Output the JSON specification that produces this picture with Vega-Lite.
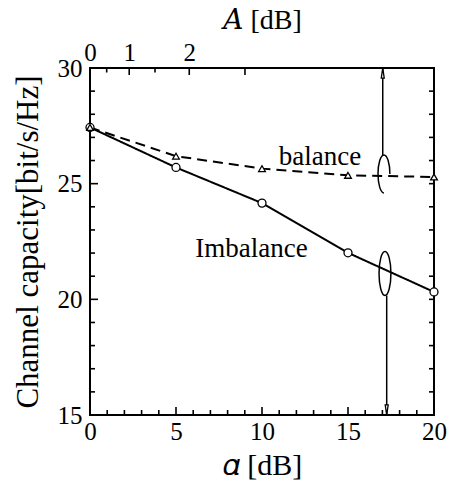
{
  "$schema": "https://vega.github.io/schema/vega-lite/v6.json",
  "width": 344,
  "height": 347,
  "autosize": {"type": "none"},
  "padding": {"left": 90, "top": 68, "right": 17, "bottom": 68},
  "background": "white",
  "config": {
    "view": {"stroke": "black", "strokeWidth": 2},
    "axis": {
      "labelFont": "Liberation Serif", "labelFontSize": 25, "labelColor": "black",
      "titleFont": "Liberation Serif, DejaVu Serif", "titleFontSize": 28, "titleFontWeight": "normal", "titleColor": "black",
      "ticks": false, "domain": false, "grid": false, "labelFlush": false, "labelOverlap": false, "labelBound": false
    },
    "text": {"font": "Liberation Serif"}
  },
  "datasets": {
    "curves": [
      {"alpha": 0, "cap": 27.43, "series": "Imbalance"},
      {"alpha": 5, "cap": 25.70, "series": "Imbalance"},
      {"alpha": 10, "cap": 24.16, "series": "Imbalance"},
      {"alpha": 15, "cap": 22.01, "series": "Imbalance"},
      {"alpha": 20, "cap": 20.32, "series": "Imbalance"},
      {"alpha": 0, "cap": 27.43, "series": "balance"},
      {"alpha": 5, "cap": 26.19, "series": "balance"},
      {"alpha": 10, "cap": 25.65, "series": "balance"},
      {"alpha": 15, "cap": 25.36, "series": "balance"},
      {"alpha": 20, "cap": 25.29, "series": "balance"}
    ],
    "arrows": [
      {"x": 17.02, "y1": 26.24, "y2": 30, "head": 29.78, "dir": "up"},
      {"x": 17.25, "y1": 20.16, "y2": 15, "head": 15.22, "dir": "down"}
    ],
    "ellipses": [
      {"x": 17.09, "y": 25.42, "which": "upper"},
      {"x": 17.15, "y": 21.12, "which": "lower"}
    ],
    "labels": [
      {"x": 13.37, "y": 26.15, "text": "balance"},
      {"x": 9.39, "y": 22.17, "text": "Imbalance"}
    ],
    "xticks": [
      {"v": 0, "kind": "major"}, {"v": 1, "kind": "minor"}, {"v": 2, "kind": "minor"}, {"v": 3, "kind": "minor"}, {"v": 4, "kind": "minor"},
      {"v": 5, "kind": "major"}, {"v": 6, "kind": "minor"}, {"v": 7, "kind": "minor"}, {"v": 8, "kind": "minor"}, {"v": 9, "kind": "minor"},
      {"v": 10, "kind": "major"}, {"v": 11, "kind": "minor"}, {"v": 12, "kind": "minor"}, {"v": 13, "kind": "minor"}, {"v": 14, "kind": "minor"},
      {"v": 15, "kind": "major"}, {"v": 16, "kind": "minor"}, {"v": 17, "kind": "minor"}, {"v": 18, "kind": "minor"}, {"v": 19, "kind": "minor"},
      {"v": 20, "kind": "major"}
    ],
    "topticks": [
      {"v": 0, "kind": "major"}, {"v": 0.97, "kind": "minor"}, {"v": 2.28, "kind": "major"},
      {"v": 3.78, "kind": "minor"}, {"v": 5.77, "kind": "major"}, {"v": 9.01, "kind": "major"}
    ],
    "yticks": [
      {"v": 15, "kind": "major"}, {"v": 16, "kind": "minor"}, {"v": 17, "kind": "minor"}, {"v": 18, "kind": "minor"}, {"v": 19, "kind": "minor"},
      {"v": 20, "kind": "major"}, {"v": 21, "kind": "minor"}, {"v": 22, "kind": "minor"}, {"v": 23, "kind": "minor"}, {"v": 24, "kind": "minor"},
      {"v": 25, "kind": "major"}, {"v": 26, "kind": "minor"}, {"v": 27, "kind": "minor"}, {"v": 28, "kind": "minor"}, {"v": 29, "kind": "minor"},
      {"v": 30, "kind": "major"}
    ]
  },
  "resolve": {
    "axis": {"x": "independent", "y": "independent"},
    "scale": {"shape": "independent", "size": "independent", "strokeDash": "independent"}
  },
  "layer": [
    {
      "data": {"name": "curves"},
      "mark": {"type": "line", "color": "black", "strokeWidth": 2},
      "encoding": {
        "x": {"field": "alpha", "type": "quantitative", "scale": {"domain": [0, 20], "nice": false},
          "axis": {"orient": "bottom", "values": [0, 5, 10, 15, 20], "labelPadding": 4, "title": "𝛼 [dB]", "titleFontSize": 30, "titlePadding": 6}},
        "y": {"field": "cap", "type": "quantitative", "scale": {"domain": [15, 30], "nice": false, "zero": false},
          "axis": {"orient": "left", "values": [15, 20, 25, 30], "labelPadding": 8, "title": "Channel capacity[bit/s/Hz]", "titleFontSize": 31, "titlePadding": 13}},
        "strokeDash": {"field": "series", "type": "nominal", "scale": {"domain": ["Imbalance", "balance"], "range": [[1, 0], [10, 6]]}, "legend": null},
        "detail": {"field": "series"}
      }
    },
    {
      "data": {"name": "curves"},
      "mark": {"type": "point", "filled": true, "fill": "white", "stroke": "black", "strokeWidth": 1.3, "opacity": 1},
      "encoding": {
        "x": {"field": "alpha", "type": "quantitative", "axis": null},
        "y": {"field": "cap", "type": "quantitative", "axis": null},
        "shape": {"field": "series", "type": "nominal", "scale": {"domain": ["Imbalance", "balance"], "range": ["circle", "triangle-up"]}, "legend": null},
        "size": {"field": "series", "type": "nominal", "scale": {"domain": ["Imbalance", "balance"], "range": [64, 45]}, "legend": null}
      }
    },
    {
      "data": {"name": "arrows"},
      "mark": {"type": "rule", "color": "black", "strokeWidth": 1.5},
      "encoding": {
        "x": {"field": "x", "type": "quantitative",
          "axis": {"orient": "top", "values": [0, 2.28, 5.77], "labelPadding": 3,
            "labelExpr": "datum.value < 0.1 ? '0' : datum.value < 3 ? '1' : '2'",
            "title": "𝐴 [dB]", "titlePadding": 6}},
        "y": {"field": "y1", "type": "quantitative", "axis": null},
        "y2": {"field": "y2"}
      }
    },
    {
      "data": {"name": "arrows"},
      "mark": {"type": "point", "filled": true, "fill": "white", "stroke": "black", "strokeWidth": 1.3, "size": 100, "opacity": 1},
      "encoding": {
        "x": {"field": "x", "type": "quantitative", "axis": null},
        "y": {"field": "head", "type": "quantitative", "axis": null},
        "shape": {"field": "dir", "type": "nominal", "scale": {"domain": ["up", "down"], "range": ["M0,-1 L-0.3,1 L0.3,1 Z", "M0,1 L-0.3,-1 L0.3,-1 Z"]}, "legend": null}
      }
    },
    {
      "data": {"name": "ellipses"},
      "mark": {"type": "point", "filled": false, "stroke": "black", "strokeWidth": 1.5, "size": 1936, "opacity": 1},
      "encoding": {
        "x": {"field": "x", "type": "quantitative", "axis": null},
        "y": {"field": "y", "type": "quantitative", "axis": null},
        "shape": {"field": "which", "type": "nominal", "scale": {"domain": ["upper", "lower"], "range": [
          "M0,-0.864 C-0.149,-0.864 -0.27,-0.477 -0.27,0 C-0.27,0.477 -0.149,0.864 0,0.864 M0,-0.864 C0.149,-0.864 0.27,-0.477 0.27,0",
          "M0,-1 C0.149,-1 0.27,-0.552 0.27,0 C0.27,0.552 0.149,1 0,1 C-0.149,1 -0.27,0.552 -0.27,0 C-0.27,-0.552 -0.149,-1 0,-1 Z"
        ]}, "legend": null}
      }
    },
    {
      "data": {"name": "labels"},
      "mark": {"type": "text", "fontSize": 27, "align": "center", "baseline": "middle", "color": "black"},
      "encoding": {
        "x": {"field": "x", "type": "quantitative", "axis": null},
        "y": {"field": "y", "type": "quantitative", "axis": null},
        "text": {"field": "text"}
      }
    },
    {
      "data": {"name": "xticks"},
      "transform": [{"filter": "datum.kind == 'major'"}],
      "mark": {"type": "point", "shape": "M0,-1 L0,1", "filled": false, "stroke": "black", "strokeWidth": 1.6, "size": 256, "opacity": 1, "clip": true},
      "encoding": {
        "x": {"field": "v", "type": "quantitative", "axis": null},
        "y": {"datum": 15, "type": "quantitative", "axis": null}
      }
    },
    {
      "data": {"name": "xticks"},
      "transform": [{"filter": "datum.kind == 'minor'"}],
      "mark": {"type": "point", "shape": "M0,-1 L0,1", "filled": false, "stroke": "black", "strokeWidth": 1.6, "size": 100, "opacity": 1, "clip": true},
      "encoding": {
        "x": {"field": "v", "type": "quantitative", "axis": null},
        "y": {"datum": 15, "type": "quantitative", "axis": null}
      }
    },
    {
      "data": {"name": "topticks"},
      "transform": [{"filter": "datum.kind == 'major'"}],
      "mark": {"type": "point", "shape": "M0,-1 L0,1", "filled": false, "stroke": "black", "strokeWidth": 1.6, "size": 196, "opacity": 1, "clip": true},
      "encoding": {
        "x": {"field": "v", "type": "quantitative", "axis": null},
        "y": {"datum": 30, "type": "quantitative", "axis": null}
      }
    },
    {
      "data": {"name": "topticks"},
      "transform": [{"filter": "datum.kind == 'minor'"}],
      "mark": {"type": "point", "shape": "M0,-1 L0,1", "filled": false, "stroke": "black", "strokeWidth": 1.6, "size": 81, "opacity": 1, "clip": true},
      "encoding": {
        "x": {"field": "v", "type": "quantitative", "axis": null},
        "y": {"datum": 30, "type": "quantitative", "axis": null}
      }
    },
    {
      "data": {"name": "yticks"},
      "transform": [{"filter": "datum.kind == 'major'"}],
      "mark": {"type": "point", "shape": "M-1,0 L1,0", "filled": false, "stroke": "black", "strokeWidth": 1.6, "size": 256, "opacity": 1, "clip": true},
      "encoding": {
        "x": {"datum": 0, "type": "quantitative", "axis": null},
        "y": {"field": "v", "type": "quantitative", "axis": null}
      }
    },
    {
      "data": {"name": "yticks"},
      "transform": [{"filter": "datum.kind == 'minor'"}],
      "mark": {"type": "point", "shape": "M-1,0 L1,0", "filled": false, "stroke": "black", "strokeWidth": 1.6, "size": 100, "opacity": 1, "clip": true},
      "encoding": {
        "x": {"datum": 0, "type": "quantitative", "axis": null},
        "y": {"field": "v", "type": "quantitative", "axis": null}
      }
    },
    {
      "data": {"name": "yticks"},
      "mark": {"type": "point", "shape": "M-1,0 L1,0", "filled": false, "stroke": "black", "strokeWidth": 1.6, "size": 100, "opacity": 1, "clip": true},
      "encoding": {
        "x": {"datum": 20, "type": "quantitative", "axis": null},
        "y": {"field": "v", "type": "quantitative", "axis": null}
      }
    }
  ]
}
